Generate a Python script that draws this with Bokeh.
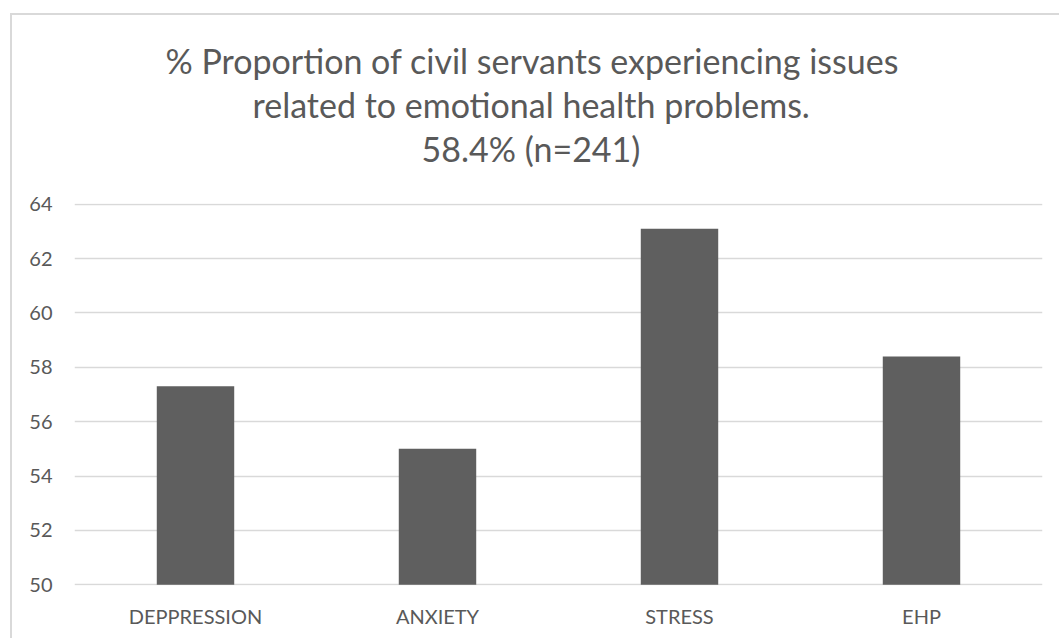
from bokeh.plotting import figure
from bokeh.models import FactorRange, Range1d, FixedTicker, Title, ColumnDataSource
from bokeh.embed import file_html
from bokeh.resources import INLINE

categories = ["DEPPRESSION", "ANXIETY", "STRESS", "EHP"]
values = [57.3, 55.0, 63.1, 58.4]
y_ticks = [50, 52, 54, 56, 58, 60, 62, 64]
title_lines = [
    "% Proportion of civil servants experiencing issues",
    "related to emotional health problems.",
    "58.4% (n=241)",
]
title_offsets = [91, 178, 347]

FONT = "Lato"
TEXT = "#595959"

p = figure(
    width=1049, height=625,
    x_range=FactorRange(*categories, range_padding=0),
    y_range=Range1d(49.97, 64.03),
    output_backend="svg", toolbar_location=None,
    min_border_left=62, min_border_right=19,
    min_border_top=188, min_border_bottom=55,
)
p.styles = {
    "border-left": "2px solid #d9d9d9",
    "border-top": "2px solid #d9d9d9",
    "margin-left": "10px",
    "margin-top": "13px",
}
p.outline_line_color = None
p.background_fill_color = "white"
p.border_fill_color = "white"

src = ColumnDataSource(dict(cat=categories, val=values))
p.vbar(x="cat", top="val", bottom=50, width=0.32, source=src,
       fill_color="#5f5f5f", line_color=None)

p.xgrid.grid_line_color = None
p.ygrid.grid_line_color = "#d9d9d9"
p.ygrid.grid_line_width = 1.5

p.yaxis.ticker = FixedTicker(ticks=y_ticks)
for ax in (p.xaxis, p.yaxis):
    ax.axis_line_color = None
    ax.major_tick_line_color = None
    ax.minor_tick_line_color = None
    ax.major_tick_out = 0
    ax.major_tick_in = 0
    ax.major_label_text_font = FONT
    ax.major_label_text_font_size = "20px"
    ax.major_label_text_color = TEXT
p.yaxis.major_label_standoff = 22
p.xaxis.major_label_standoff = 18

# spacer between the title block and the plot area
p.add_layout(Title(text=" ", standoff=0, text_font=FONT,
                   text_font_size="26px", text_color="white"), "above")
for txt, off in reversed(list(zip(title_lines, title_offsets))):
    p.add_layout(Title(text=txt, align="left", offset=off, standoff=1,
                       text_font=FONT, text_font_size="34px",
                       text_font_style="normal", text_color=TEXT), "above")

open("out.html", "w").write(file_html(p, INLINE))
